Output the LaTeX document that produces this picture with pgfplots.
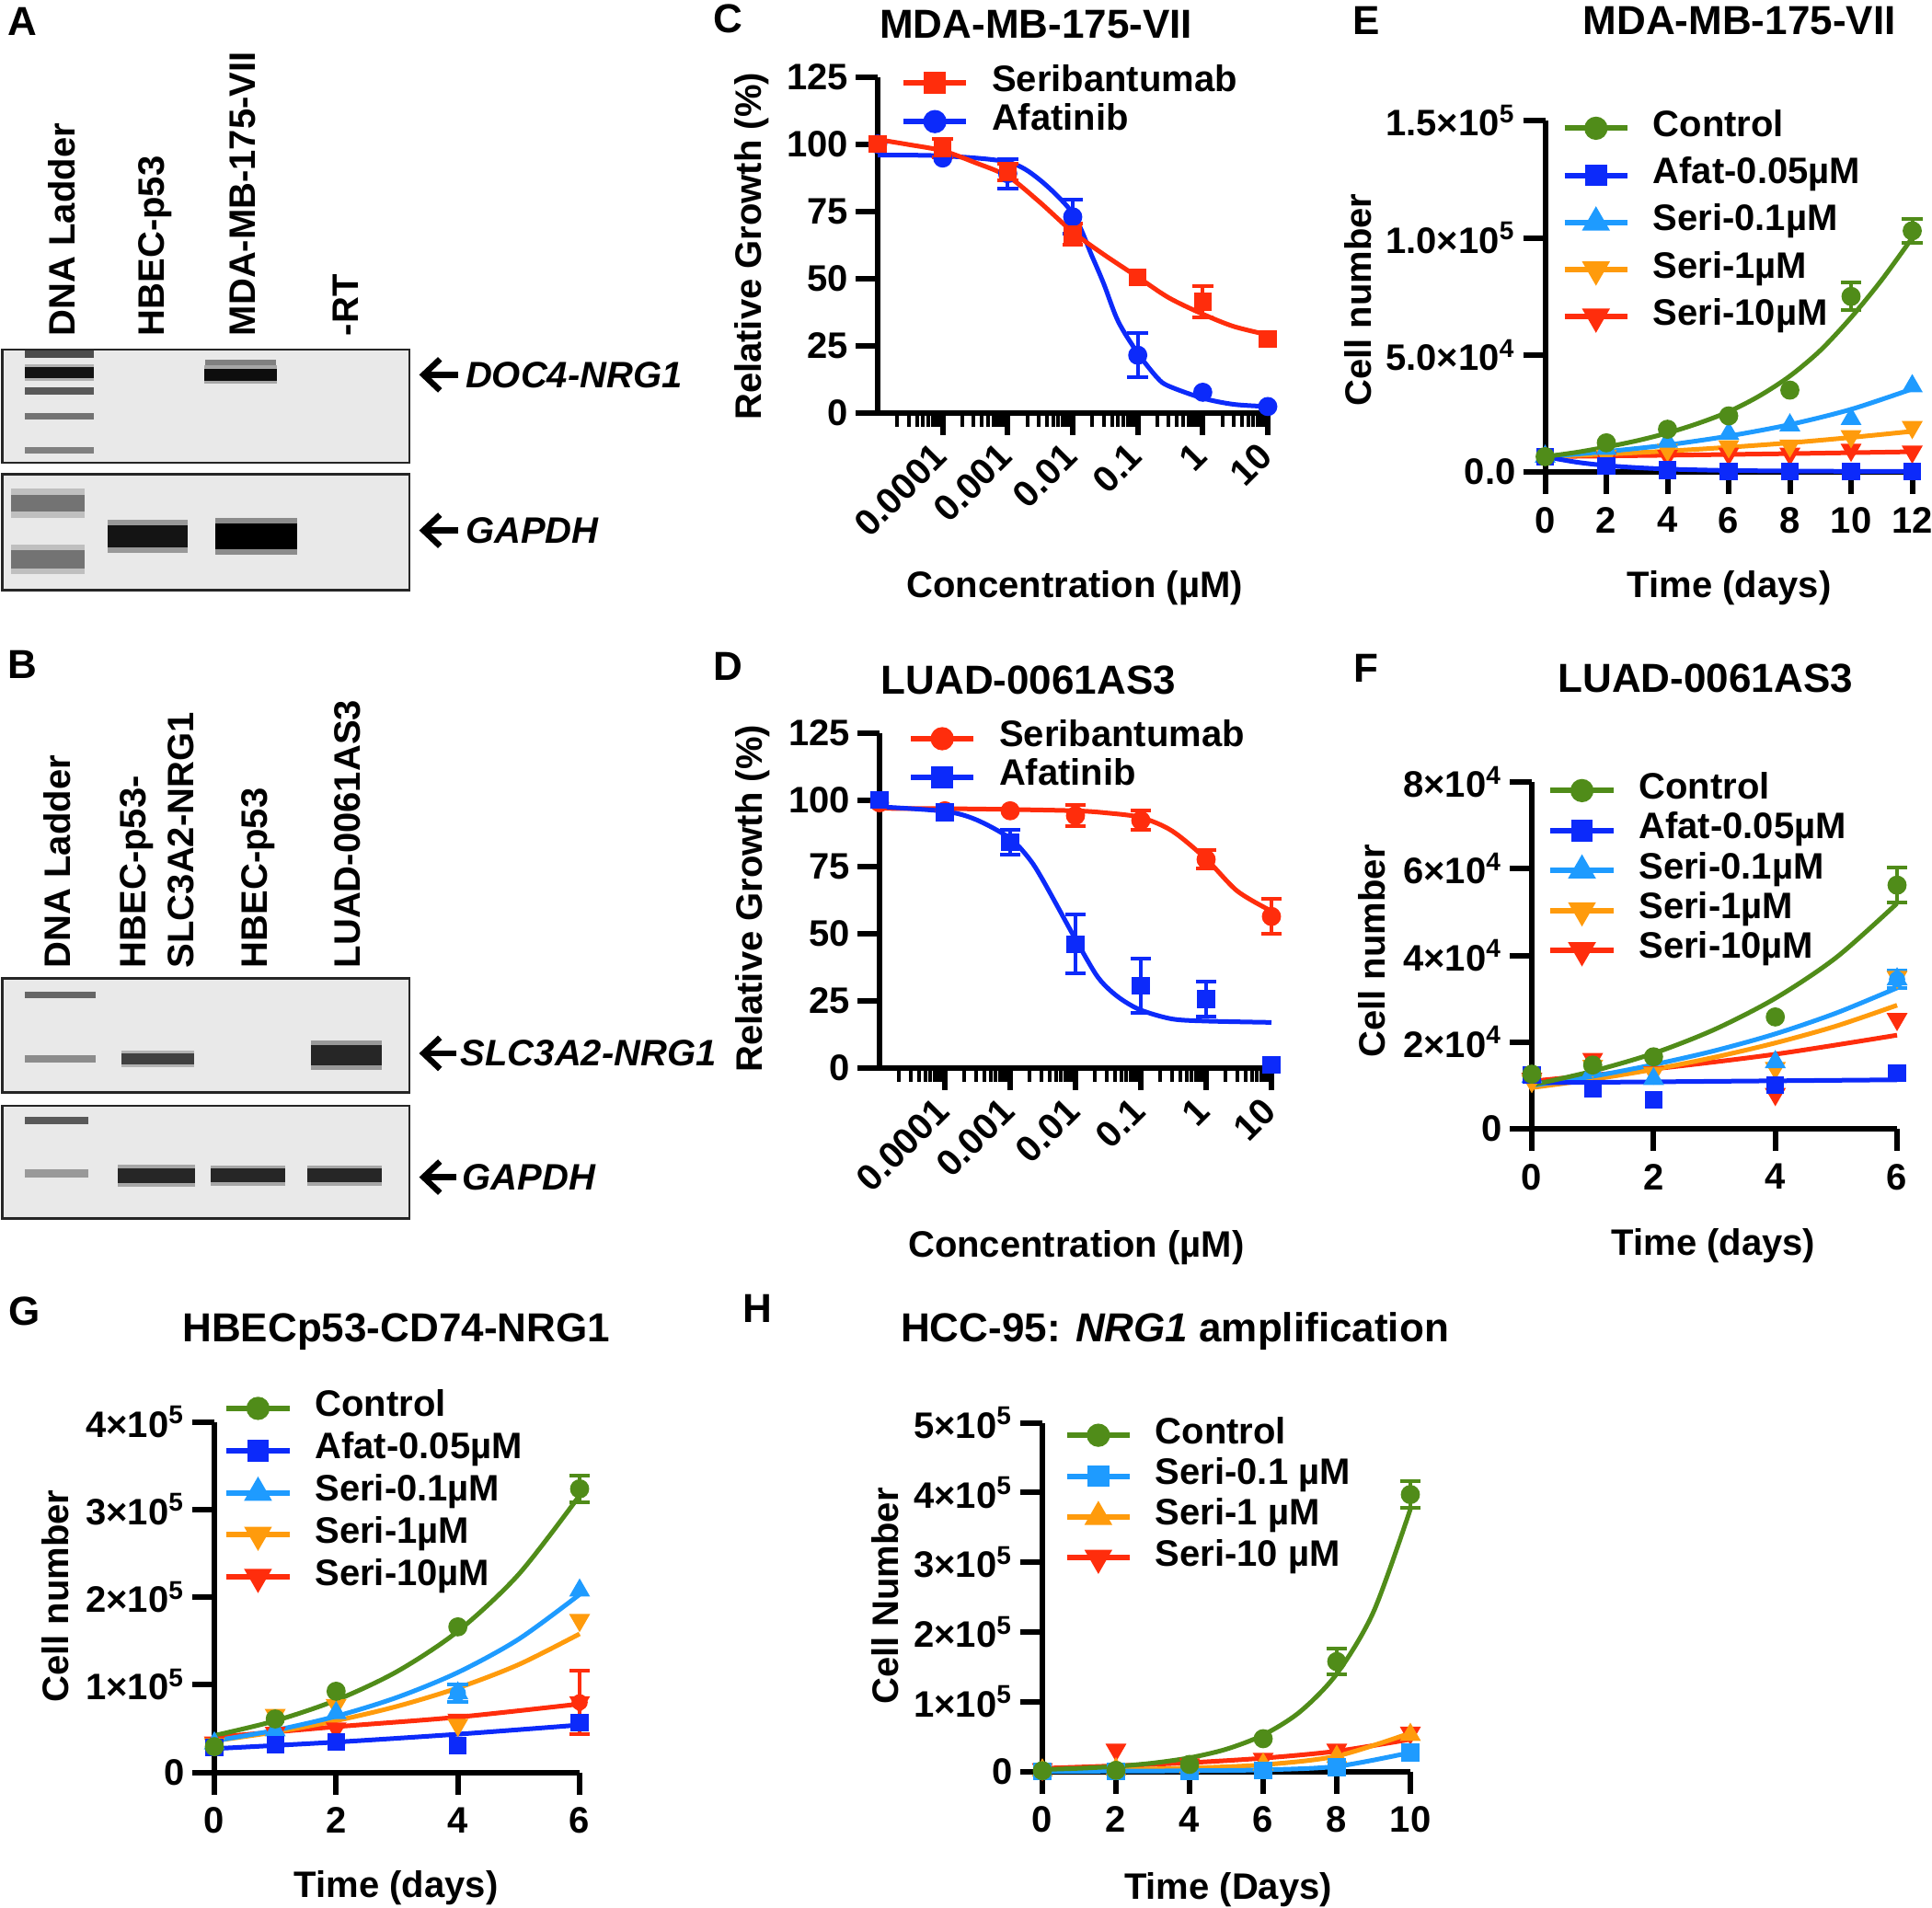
\documentclass[border=0pt]{standalone}
\usepackage{fontspec}
\setmainfont{Liberation Sans}
\usepackage{pgfplots}
\pgfplotsset{compat=1.18}
\usetikzlibrary{arrows.meta}

\definecolor{cgreen}{RGB}{80,140,25}
\definecolor{cblue}{RGB}{12,42,250}
\definecolor{clblue}{RGB}{30,155,255}
\definecolor{corange}{RGB}{255,155,12}
\definecolor{cred}{RGB}{255,45,12}
\definecolor{gelbg}{RGB}{233,233,233}

\newcommand{\fs}{\fontsize{10}{12}\selectfont\bfseries}
\newcommand{\fsT}{\fontsize{11}{13}\selectfont\bfseries}
\newcommand{\sx}[1]{\textsuperscript{#1}}

\pgfplotsset{
  gp/.style={
    scale only axis, clip=false, anchor=south west,
    axis lines*=left, xtick pos=left, ytick pos=left,
    axis line style={line width=1.5pt, -},
    major tick style={line width=1.5pt, black},
    minor tick style={line width=1pt, black},
    tick align=outside,
    major tick length=6pt, minor tick length=3.75pt,
    tick label style={font=\fs},
    yticklabel style={xshift=1.5pt},
    label style={font=\fs},
    every axis title shift=0pt,
    title style={font=\fsT, anchor=center},
    xlabel style={anchor=center}, ylabel style={anchor=center},
    scaled x ticks=false, scaled y ticks=false,
    legend cell align=left,
    legend style={draw=none, fill=none, anchor=north west, inner sep=0pt, outer sep=0pt,
      column sep=6.2pt, row sep=0pt, font=\fs,
      nodes={inner sep=0pt, text height=7.5pt, text depth=3pt}},
  },
  logx/.style={
    xmin=1e-5, xmax=10, ymin=0, ymax=125,
    xtick={1e-4,1e-3,1e-2,1e-1,1,10},
    xticklabels={0.0001,0.001,0.01,0.1,1,10},
    minor xtick={2e-5,3e-5,4e-5,5e-5,6e-5,7e-5,8e-5,9e-5,2e-4,3e-4,4e-4,5e-4,6e-4,7e-4,8e-4,9e-4,0.002,0.003,0.004,0.005,0.006,0.007,0.008,0.009,0.02,0.03,0.04,0.05,0.06,0.07,0.08,0.09,0.2,0.3,0.4,0.5,0.6,0.7,0.8,0.9,2,3,4,5,6,7,8,9},
    ytick={0,25,50,75,100,125}, yticklabels={0,25,50,75,100,125},
    xticklabel style={xshift=-3.2pt, rotate=45, anchor=north east, inner sep=1pt},
  },
  mC/.style={mark=*, mark size=2.4pt},
  mS/.style={mark=square*, mark size=2.2pt},
  mU/.style={mark=triangle*, mark size=2.9pt},
  mD/.style={mark=triangle*, mark size=2.9pt, mark options={rotate=180}},
  pts/.style={only marks, forget plot},
  fit/.style={mark=none, forget plot, line width=1.25pt, smooth},
  lg/.style={line width=1.5pt},
  err/.style={only marks, mark=none, forget plot, error bars/.cd, y dir=both, y explicit,
    error bar style={line width=1pt}, error mark options={rotate=90, mark size=2.8pt, line width=1pt}},
  gel/.style={scale only axis, anchor=south west, xmin=2.5, xmax=445, xtick=\empty, ytick=\empty,
    axis background/.style={fill=gelbg}, axis line style={line width=0.7pt, black!85}},
  band/.style={forget plot, line cap=butt},
}

\begin{document}
\begin{tikzpicture}
\useasboundingbox (0,0) rectangle (525pt,-518.5pt);

% ---------------- panel letters ----------------
\begin{scope}[every node/.style={font=\fontsize{11}{13}\selectfont\bfseries, inner sep=0pt}]
\node at (6.2pt,-5.8pt) {A};
\node at (6.2pt,-180.6pt) {B};
\node at (197.9pt,-5.2pt) {C};
\node at (197.9pt,-181pt) {D};
\node at (371.25pt,-5.6pt) {E};
\node at (371.25pt,-181.5pt) {F};
\node at (6.7pt,-356.4pt) {G};
\node at (205.9pt,-355.5pt) {H};
\end{scope}

% ---------------- gel labels ----------------
\begin{scope}[every node/.style={font=\fs, inner sep=0pt, rotate=90, anchor=west}]
\node at (16.75pt,-91.5pt) {DNA Ladder};
\node at (42.25pt,-91.5pt) {HBEC-p53};
\node at (65.9pt,-91.5pt) {MDA-MB-175-VII};
\node at (93.9pt,-91.5pt) {-RT};
\node at (15.55pt,-263.25pt) {DNA Ladder};
\node at (37.25pt,-263.25pt) {HBEC-p53-};
\node at (49.1pt,-263.25pt) {SLC3A2-NRG1};
\node at (70.25pt,-263.25pt) {HBEC-p53};
\node at (94.5pt,-263.25pt) {LUAD-0061AS3};
\end{scope}

% ---------------- gel arrows ----------------
\begin{scope}[every node/.style={font=\fs\itshape, inner sep=0pt, anchor=west}]
\draw[line width=1.6pt, {Straight Barb[length=4.5pt, width=8.5pt, line width=1.6pt]}-] (113.9pt,-101.85pt) -- (124.5pt,-101.85pt);
\node at (126.3pt,-101.85pt) {DOC4-NRG1};
\draw[line width=1.6pt, {Straight Barb[length=4.5pt, width=8.5pt, line width=1.6pt]}-] (113.9pt,-144.15pt) -- (124.5pt,-144.15pt);
\node at (126.3pt,-144.15pt) {GAPDH};
\draw[line width=1.6pt, {Straight Barb[length=4.5pt, width=8.5pt, line width=1.6pt]}-] (113.9pt,-286.25pt) -- (124pt,-286.25pt);
\node at (125.0pt,-286.25pt) {SLC3A2-NRG1};
\draw[line width=1.6pt, {Straight Barb[length=4.5pt, width=8.5pt, line width=1.6pt]}-] (113.9pt,-319.9pt) -- (124pt,-319.9pt);
\node at (125.5pt,-319.9pt) {GAPDH};
\end{scope}

% ---------------- gel A top ----------------
\begin{axis}[gel, at={(0.625pt,-125.75pt)}, width=110.625pt, height=30.75pt, ymin=-503, ymax=-380]
\addplot[band, black!70, line width=1.8pt] coordinates {(27,-385) (102,-385)};
\addplot[band, black!30, line width=4.5pt] coordinates {(27,-405) (102,-405)};
\addplot[band, black!92, line width=2.8pt] coordinates {(27,-405) (102,-405)};
\addplot[band, black!65, line width=1.8pt] coordinates {(27,-425) (102,-425)};
\addplot[band, black!55, line width=1.6pt] coordinates {(27,-452.5) (102,-452.5)};
\addplot[band, black!50, line width=1.6pt] coordinates {(27,-489.5) (102,-489.5)};
\addplot[band, black!50, line width=2.2pt] coordinates {(223,-395.6) (300,-395.6)};
\addplot[band, black!35, line width=5pt] coordinates {(222,-407.4) (301,-407.4)};
\addplot[band, black!95, line width=3.3pt] coordinates {(222,-407.4) (301,-407.4)};
\end{axis}
% ---------------- gel A bottom ----------------
\begin{axis}[gel, at={(0.625pt,-160.475pt)}, width=110.625pt, height=31.575pt, ymin=-641.9, ymax=-515.6]
\addplot[band, black!25, line width=8pt] coordinates {(12,-547) (92,-547)};
\addplot[band, black!55, line width=4.5pt] coordinates {(12,-547) (92,-547)};
\addplot[band, black!25, line width=8pt] coordinates {(12,-608) (92,-608)};
\addplot[band, black!55, line width=5pt] coordinates {(12,-608) (92,-608)};
\addplot[band, black!40, line width=9pt] coordinates {(117,-583) (204,-583)};
\addplot[band, black!92, line width=6pt] coordinates {(117,-583) (204,-583)};
\addplot[band, black!45, line width=10pt] coordinates {(234,-583) (323,-583)};
\addplot[band, black, line width=7pt] coordinates {(234,-583) (323,-583)};
\end{axis}
% ---------------- gel B top ----------------
\begin{axis}[gel, at={(0.625pt,-296.95pt)}, width=110.625pt, height=31.125pt, ymin=-1187.8, ymax=-1063.3]
\addplot[band, black!60, line width=1.8pt] coordinates {(27,-1081.7) (104,-1081.7)};
\addplot[band, black!45, line width=2.2pt] coordinates {(27,-1151) (104,-1151)};
\addplot[band, black!30, line width=4.5pt] coordinates {(132,-1151) (211,-1151)};
\addplot[band, black!75, line width=3pt] coordinates {(132,-1151) (211,-1151)};
\addplot[band, black!40, line width=8pt] coordinates {(338,-1147) (415,-1147)};
\addplot[band, black!85, line width=5.5pt] coordinates {(338,-1147) (415,-1147)};
\end{axis}
% ---------------- gel B bottom ----------------
\begin{axis}[gel, at={(0.625pt,-331.125pt)}, width=110.625pt, height=30.625pt, ymin=-1324.5, ymax=-1202]
\addplot[band, black!65, line width=2pt] coordinates {(27,-1217.6) (96,-1217.6)};
\addplot[band, black!40, line width=2.2pt] coordinates {(27,-1275.6) (96,-1275.6)};
\addplot[band, black!35, line width=6pt] coordinates {(128,-1277.6) (212,-1277.6)};
\addplot[band, black!85, line width=4pt] coordinates {(128,-1277.6) (212,-1277.6)};
\addplot[band, black!35, line width=5.5pt] coordinates {(229,-1277.6) (310,-1277.6)};
\addplot[band, black!85, line width=3.6pt] coordinates {(229,-1277.6) (310,-1277.6)};
\addplot[band, black!35, line width=5.5pt] coordinates {(334,-1277.6) (415,-1277.6)};
\addplot[band, black!85, line width=3.6pt] coordinates {(334,-1277.6) (415,-1277.6)};
\end{axis}

% ---------------- panel C ----------------
\begin{axis}[xmode=log, gp, logx, at={(238.5pt,-112.15pt)}, width=106pt, height=91.25pt,
  title={MDA-MB-175-VII}, title style={at={(axis description cs:0.406,1.1556)}},
  xlabel={Concentration (µM)}, xlabel style={at={(axis description cs:0.505,-0.523)}},
  ylabel={Relative Growth (\%)}, ylabel style={at={(axis description cs:-0.3236,0.495)}},
  legend style={at={(axis description cs:0.059,1.0395)}}]
\addlegendimage{cred, lg, mS}\addlegendentry{Seribantumab}
\addlegendimage{cblue, lg, mC}\addlegendentry{Afatinib}
\addplot[cblue, fit] coordinates {(1e-5,95.9)(1e-4,95.6)(1e-3,93.3)(3e-3,87)(1e-2,74.2)(2e-2,58)(3e-2,48)(5e-2,34)(0.1,22.2)(0.2,13)(0.3,9.9)(1,5.4)(3,3.1)(10,2.3)};
\addplot[cblue, err] coordinates {(1e-3,89) +- (0,5.5) (1e-2,72.9) +- (0,6.3) (0.1,21.4) +- (0,8.1)};
\addplot[cblue, pts, mC] coordinates {(1e-5,100)(1e-4,94.8)(1e-3,89)(1e-2,72.9)(0.1,21.4)(1,7.6)(10,2.3)};
\addplot[cred, fit] coordinates {(1e-5,101.7)(3e-5,99.8)(1e-4,97.5)(3e-4,93.3)(1e-3,88)(3e-3,78.7)(1e-2,67.3)(3e-2,58.9)(0.1,50.5)(0.3,42.8)(1,36.7)(3,32.1)(10,29)};
\addplot[cred, err] coordinates {(1e-4,98.5) +- (0,3.5) (1e-3,89.5) +- (0,3) (1e-2,66.5) +- (0,3.8) (1,41.3) +- (0,5.7)};
\addplot[cred, pts, mS] coordinates {(1e-5,100)(1e-4,98.5)(1e-3,89.5)(1e-2,66.5)(0.1,50.5)(1,41.3)(10,27.5)};
\end{axis}

% ---------------- panel D ----------------
\begin{axis}[xmode=log, gp, logx, at={(239pt,-290.125pt)}, width=106.5pt, height=90.875pt,
  title={LUAD-0061AS3}, title style={at={(axis description cs:0.3798,1.1596)}},
  xlabel={Concentration (µM)}, xlabel style={at={(axis description cs:0.502,-0.538)}},
  ylabel={Relative Growth (\%)}, ylabel style={at={(axis description cs:-0.324,0.505)}},
  legend style={at={(axis description cs:0.0728,1.0413)}}]
\addlegendimage{cred, lg, mC}\addlegendentry{Seribantumab}
\addlegendimage{cblue, lg, mS}\addlegendentry{Afatinib}
\addplot[cred, fit] coordinates {(1e-5,96.9)(1e-4,96.8)(1e-3,96.5)(1e-2,96)(3e-2,95.2)(0.1,93.5)(0.3,88.5)(1,78)(3,66)(10,58.5)};
\addplot[cred, err] coordinates {(1e-2,94.2) +- (0,3.9) (0.1,92.4) +- (0,3.6) (1,77.8) +- (0,3.5) (10,56.5) +- (0,6.5)};
\addplot[cred, pts, mC] coordinates {(1e-5,99)(1e-4,96)(1e-3,96)(1e-2,94.2)(0.1,92.4)(1,77.8)(10,56.5)};
\addplot[cblue, fit] coordinates {(1e-5,97.5)(1e-4,95.8)(3e-4,92.7)(1e-3,85.7)(2e-3,77.8)(3e-3,71.1)(5e-3,61.4)(1e-2,48)(2e-2,35.3)(3e-2,30.1)(5e-2,25.6)(0.1,21.5)(0.3,18.2)(1,17.4)(10,16.9)};
\addplot[cblue, err] coordinates {(1e-3,84.2) +- (0,4.6) (1e-2,46.2) +- (0,11) (0.1,30.6) +- (0,10) (1,25.6) +- (0,6.5)};
\addplot[cblue, pts, mS] coordinates {(1e-5,100)(1e-4,95.4)(1e-3,84.2)(1e-2,46.2)(0.1,30.6)(1,25.6)(10,1)};
\end{axis}

% ---------------- panel E ----------------
\begin{axis}[gp, at={(419.875pt,-128.3pt)}, width=99.75pt, height=95.5pt,
  xmin=0, xmax=12, ymin=0, ymax=150000,
  xtick={0,2,4,6,8,10,12}, xticklabels={0,2,4,6,8,10,12},
  ytick={0,50000,100000,150000},
  yticklabels={0.0,5.0×10\sx{4},1.0×10\sx{5},1.5×10\sx{5}},
  title={MDA-MB-175-VII}, title style={at={(axis description cs:0.5291,1.285)}},
  xlabel={Time (days)}, xlabel style={at={(axis description cs:0.5018,-0.33)}},
  ylabel={Cell number}, ylabel style={at={(axis description cs:-0.509,0.4901)}},
  legend style={at={(axis description cs:0.0454,1.0335)}, row sep=2.3pt}]
\addlegendimage{cgreen, lg, mC}\addlegendentry{Control}
\addlegendimage{cblue, lg, mS}\addlegendentry{Afat-0.05µM}
\addlegendimage{clblue, lg, mU}\addlegendentry{Seri-0.1µM}
\addlegendimage{corange, lg, mD}\addlegendentry{Seri-1µM}
\addlegendimage{cred, lg, mD}\addlegendentry{Seri-10µM}
\addplot[cred, fit] coordinates {(0,6600)(4,7200)(8,7900)(12,8700)};
\addplot[cred, pts, mD] coordinates {(2,6000)(4,6900)(6,7800)(8,7800)(10,9500)(12,8700)};
\addplot[corange, fit] coordinates {(0,6600)(2,7700)(4,9000)(6,10600)(8,12500)(10,14800)(12,17400)};
\addplot[corange, pts, mD] coordinates {(2,7000)(4,9500)(6,11000)(8,11300)(10,15300)(12,19200)};
\addplot[clblue, fit] coordinates {(0,6600)(2,8800)(4,11600)(6,15400)(8,20300)(10,26800)(12,35500)};
\addplot[clblue, pts, mU] coordinates {(0,6600)(2,10000)(4,13000)(6,16500)(8,20000)(10,22700)(12,36700)};
\addplot[cblue, fit] coordinates {(0,6600)(1,4300)(2,2800)(3,1900)(4,1300)(5,950)(6,700)(8,450)(10,350)(12,300)};
\addplot[cblue, pts, mS] coordinates {(0,6600)(2,2500)(4,900)(6,300)(8,300)(10,300)(12,300)};
\addplot[cgreen, fit] coordinates {(0,6600)(1,8400)(2,10700)(3,13400)(4,16700)(5,20800)(6,25800)(7,32500)(8,41000)(9,52000)(10,66000)(11,82000)(12,100000)};
\addplot[cgreen, err] coordinates {(10,75000) +- (0,5800) (12,103000) +- (0,5000)};
\addplot[cgreen, pts, mC] coordinates {(0,6600)(2,12500)(4,18300)(6,24000)(8,35000)(10,75000)(12,103000)};
\end{axis}

% ---------------- panel F ----------------
\begin{axis}[gp, at={(416.25pt,-306.75pt)}, width=99.25pt, height=94.25pt,
  xmin=0, xmax=6, ymin=0, ymax=80000,
  xtick={0,2,4,6}, xticklabels={0,2,4,6},
  ytick={0,20000,40000,60000,80000},
  yticklabels={0,2×10\sx{4},4×10\sx{4},6×10\sx{4},8×10\sx{4}},
  title={LUAD-0061AS3}, title style={at={(axis description cs:0.4753,1.300)}},
  xlabel={Time (days)}, xlabel style={at={(axis description cs:0.4972,-0.336)}},
  ylabel={Cell number}, ylabel style={at={(axis description cs:-0.4368,0.512)}},
  legend style={at={(axis description cs:0.0438,1.0308)}, row sep=0.35pt}]
\addlegendimage{cgreen, lg, mC}\addlegendentry{Control}
\addlegendimage{cblue, lg, mS}\addlegendentry{Afat-0.05µM}
\addlegendimage{clblue, lg, mU}\addlegendentry{Seri-0.1µM}
\addlegendimage{corange, lg, mD}\addlegendentry{Seri-1µM}
\addlegendimage{cred, lg, mD}\addlegendentry{Seri-10µM}
\addplot[cred, fit] coordinates {(0,11000)(2,13800)(4,17200)(6,21600)};
\addplot[cred, pts, mD] coordinates {(0,11500)(1,16100)(2,13000)(4,8000)(6,25300)};
\addplot[corange, fit] coordinates {(0,9500)(1,11400)(2,13700)(3,16500)(4,19800)(5,23700)(6,28500)};
\addplot[corange, pts, mD] coordinates {(0,11000)(1,14500)(2,12900)(4,14000)(6,35000)};
\addplot[clblue, fit] coordinates {(0,10000)(1,12100)(2,14800)(3,18000)(4,21900)(5,26700)(6,32500)};
\addplot[clblue, err] coordinates {(6,34500) +- (0,2000)};
\addplot[clblue, pts, mU] coordinates {(0,12000)(1,13500)(2,11500)(4,15400)(6,34500)};
\addplot[cblue, fit] coordinates {(0,10600)(3,10950)(6,11300)};
\addplot[cblue, pts, mS] coordinates {(0,12400)(1,9200)(2,6700)(4,10100)(6,12900)};
\addplot[cgreen, fit] coordinates {(0,10100)(1,13300)(2,17400)(3,22900)(4,30100)(5,39500)(6,52000)};
\addplot[cgreen, err] coordinates {(6,56200) +- (0,4000)};
\addplot[cgreen, pts, mC] coordinates {(0,12600)(1,14700)(2,16600)(4,25800)(6,56200)};
\end{axis}

% ---------------- panel G ----------------
\begin{axis}[gp, at={(58.25pt,-481.625pt)}, width=99.25pt, height=95.25pt,
  xmin=0, xmax=6, ymin=0, ymax=400000,
  xtick={0,2,4,6}, xticklabels={0,2,4,6},
  ytick={0,100000,200000,300000,400000},
  yticklabels={0,1×10\sx{5},2×10\sx{5},3×10\sx{5},4×10\sx{5}},
  title={HBECp53-CD74-NRG1}, title style={at={(axis description cs:0.498,1.2577)}},
  xlabel={Time (days)}, xlabel style={at={(axis description cs:0.498,-0.33)}},
  ylabel={Cell number}, ylabel style={at={(axis description cs:-0.435,0.5026)}},
  legend style={at={(axis description cs:0.026,1.0934)}, row sep=0.95pt}]
\addlegendimage{cgreen, lg, mC}\addlegendentry{Control}
\addlegendimage{cblue, lg, mS}\addlegendentry{Afat-0.05µM}
\addlegendimage{clblue, lg, mU}\addlegendentry{Seri-0.1µM}
\addlegendimage{corange, lg, mD}\addlegendentry{Seri-1µM}
\addlegendimage{cred, lg, mD}\addlegendentry{Seri-10µM}
\addplot[cred, fit] coordinates {(0,40000)(2,52000)(4,63000)(6,78000)};
\addplot[cred, err] coordinates {(6,79900) +- (0,36000)};
\addplot[cred, pts, mD] coordinates {(0,34000)(1,45000)(2,50000)(4,60000)(6,79900)};
\addplot[corange, fit] coordinates {(0,36000)(1,46000)(2,58900)(3,75300)(4,96300)(5,123000)(6,158000)};
\addplot[corange, pts, mD] coordinates {(0,32000)(1,65400)(2,76700)(4,54100)(6,173700)};
\addplot[clblue, fit] coordinates {(0,36000)(1,48000)(2,64000)(3,85500)(4,114000)(5,152000)(6,203000)};
\addplot[clblue, err] coordinates {(4,90200) +- (0,10000)};
\addplot[clblue, pts, mU] coordinates {(0,33000)(1,48000)(2,67700)(4,90200)(6,207500)};
\addplot[cblue, fit] coordinates {(0,27000)(2,34500)(4,43500)(6,54000)};
\addplot[cblue, pts, mS] coordinates {(0,28400)(1,31600)(2,34700)(4,30200)(6,56400)};
\addplot[cgreen, fit] coordinates {(0,42000)(1,58800)(2,82300)(3,115000)(4,161000)(5,226000)(6,316000)};
\addplot[cgreen, err] coordinates {(6,323500) +- (0,15000)};
\addplot[cgreen, pts, mC] coordinates {(0,29300)(1,60900)(2,92500)(4,166000)(6,323500)};
\end{axis}

% ---------------- panel H ----------------
\begin{axis}[gp, at={(283.25pt,-481.375pt)}, width=100pt, height=94.75pt,
  xmin=0, xmax=10, ymin=0, ymax=500000,
  xtick={0,2,4,6,8,10}, xticklabels={0,2,4,6,8,10},
  ytick={0,100000,200000,300000,400000,500000},
  yticklabels={0,1×10\sx{5},2×10\sx{5},3×10\sx{5},4×10\sx{5},5×10\sx{5}},
  title={HCC-95: \textit{NRG1} amplification}, title style={at={(axis description cs:0.36,1.2617)}},
  xlabel={Time (Days)}, xlabel style={at={(axis description cs:0.505,-0.34)}},
  ylabel={Cell Number}, ylabel style={at={(axis description cs:-0.426,0.5026)}},
  legend style={at={(axis description cs:0.0593,1.0195)}, row sep=0.6pt}]
\addlegendimage{cgreen, lg, mC}\addlegendentry{Control}
\addlegendimage{clblue, lg, mS}\addlegendentry{Seri-0.1 µM}
\addlegendimage{corange, lg, mU}\addlegendentry{Seri-1 µM}
\addlegendimage{cred, lg, mD}\addlegendentry{Seri-10 µM}
\addplot[cred, fit] coordinates {(0,4400)(2,8000)(4,12500)(6,19000)(8,29000)(10,46000)};
\addplot[cred, pts, mD] coordinates {(0,3000)(2,31000)(4,10000)(6,18000)(8,31000)(10,55300)};
\addplot[corange, fit] coordinates {(0,1500)(2,2600)(4,4800)(6,9500)(8,22000)(10,55000)};
\addplot[corange, pts, mU] coordinates {(0,1500)(2,3000)(4,6000)(6,10000)(8,21000)(10,52500)};
\addplot[clblue, fit] coordinates {(0,200)(2,400)(4,900)(6,2200)(8,7200)(10,27000)};
\addplot[clblue, pts, mS] coordinates {(0,500)(2,500)(4,800)(6,1500)(8,6000)(10,27000)};
\addplot[cgreen, fit] coordinates {(0,2700)(1,4400)(2,7200)(3,11900)(4,19500)(5,31900)(6,52200)(7,85500)(8,140000)(9,229000)(10,376000)};
\addplot[cgreen, err] coordinates {(8,157500) +- (0,18700) (10,397000) +- (0,19000)};
\addplot[cgreen, pts, mC] coordinates {(0,1000)(2,1500)(4,10000)(6,46900)(8,157500)(10,397000)};
\end{axis}

\end{tikzpicture}
\end{document}
